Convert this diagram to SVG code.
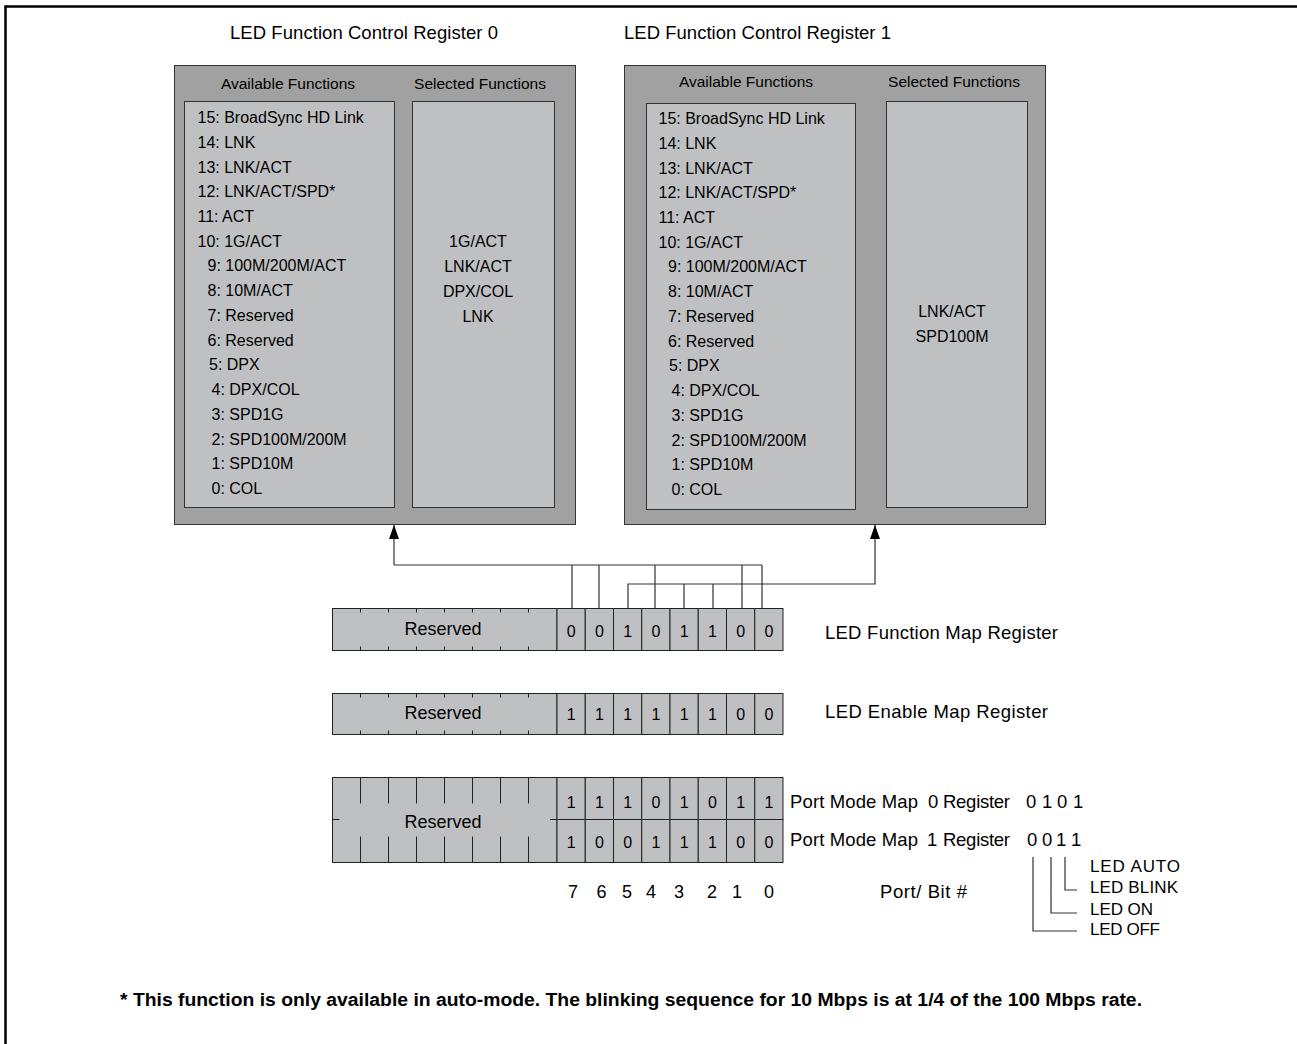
<svg xmlns="http://www.w3.org/2000/svg" width="1297" height="1044" viewBox="0 0 1297 1044">
<style>
.t{font-family:"Liberation Sans",Arial,sans-serif;fill:#000}
.li{font-size:16px}
.hd{font-size:15.5px;text-anchor:middle}
.sel{font-size:16px;text-anchor:middle}
.ti{font-size:18.5px}
.lab{font-size:18.5px}
.led{font-size:17px}
.bit{font-size:16px;text-anchor:middle}
.num{font-size:18px;text-anchor:middle}
.res{font-size:18px;text-anchor:middle}
.outer{fill:#a1a1a1;stroke:#333;stroke-width:1}
.inner{fill:#bfc0c2;stroke:#333;stroke-width:1}
.cell{fill:#bfc0c2;stroke:#222;stroke-width:1}
.tk{stroke:#222;stroke-width:1;fill:none}
.ln{fill:none;stroke:#333;stroke-width:1.2}
</style>
<defs>
<marker id="ah" viewBox="0 0 14 10" refX="14" refY="5" markerWidth="14" markerHeight="10" markerUnits="userSpaceOnUse" orient="auto">
<path d="M0,0 L14,5 L0,10 Z" fill="#000"/>
</marker>
</defs>
<rect x="0" y="0" width="1297" height="1044" fill="#fff"/>
<path d="M5.5,1044 V6.5 H1297" fill="none" stroke="#000" stroke-width="2.5"/>

<g id="reg0">
<text class="t ti" x="230" y="38.5" textLength="268">LED Function Control Register 0</text>
<rect class="outer" x="174.5" y="65.5" width="401" height="459"/>
<text class="t hd" x="288" y="89">Available Functions</text>
<text class="t hd" x="480" y="89">Selected Functions</text>
<rect class="inner" x="184.5" y="101.5" width="210" height="406"/>
<rect class="inner" x="412.5" y="101.5" width="142" height="406"/>
<g class="t li">
<text x="197.5" y="123">15: BroadSync HD Link</text>
<text x="197.5" y="147.7">14: LNK</text>
<text x="197.5" y="172.5">13: LNK/ACT</text>
<text x="197.5" y="197.2">12: LNK/ACT/SPD*</text>
<text x="197.5" y="221.9">11: ACT</text>
<text x="197.5" y="246.7">10: 1G/ACT</text>
<text x="207.5" y="271.4">9: 100M/200M/ACT</text>
<text x="207.5" y="296.1">8: 10M/ACT</text>
<text x="207.5" y="320.8">7: Reserved</text>
<text x="207.5" y="345.6">6: Reserved</text>
<text x="209" y="370.3">5: DPX</text>
<text x="211.5" y="395">4: DPX/COL</text>
<text x="211.5" y="419.8">3: SPD1G</text>
<text x="211.5" y="444.5">2: SPD100M/200M</text>
<text x="211.5" y="469.2">1: SPD10M</text>
<text x="211.5" y="494">0: COL</text>
</g>
<g class="t sel">
<text x="478" y="247">1G/ACT</text>
<text x="478" y="272">LNK/ACT</text>
<text x="478" y="297">DPX/COL</text>
<text x="478" y="322">LNK</text>
</g>
</g>

<g id="reg1">
<text class="t ti" x="624" y="38.5" textLength="267">LED Function Control Register 1</text>
<rect class="outer" x="624.5" y="65.5" width="421" height="459"/>
<text class="t hd" x="746" y="87">Available Functions</text>
<text class="t hd" x="954" y="87">Selected Functions</text>
<rect class="inner" x="646.5" y="103.5" width="209" height="406"/>
<rect class="inner" x="886.5" y="101.5" width="141" height="406"/>
<g class="t li">
<text x="658.5" y="124">15: BroadSync HD Link</text>
<text x="658.5" y="148.7">14: LNK</text>
<text x="658.5" y="173.5">13: LNK/ACT</text>
<text x="658.5" y="198.2">12: LNK/ACT/SPD*</text>
<text x="658.5" y="222.9">11: ACT</text>
<text x="658.5" y="247.7">10: 1G/ACT</text>
<text x="668" y="272.4">9: 100M/200M/ACT</text>
<text x="668" y="297.1">8: 10M/ACT</text>
<text x="668" y="321.8">7: Reserved</text>
<text x="668" y="346.6">6: Reserved</text>
<text x="669" y="371.3">5: DPX</text>
<text x="671.5" y="396">4: DPX/COL</text>
<text x="671.5" y="420.8">3: SPD1G</text>
<text x="671.5" y="445.5">2: SPD100M/200M</text>
<text x="671.5" y="470.2">1: SPD10M</text>
<text x="671.5" y="495">0: COL</text>
</g>
<g class="t sel">
<text x="952" y="317">LNK/ACT</text>
<text x="952" y="342">SPD100M</text>
</g>
</g>

<g id="connectors">
<path class="ln" d="M394,565 V525" marker-end="url(#ah)"/>
<path class="ln" d="M394,565 H762"/>
<path class="ln" d="M572,565 V608 M599,565 V608 M655,565 V608 M742,565 V608 M762,565 V608"/>
<path class="ln" d="M628,608 V584 H875 V525" marker-end="url(#ah)"/>
<path class="ln" d="M684,584 V608 M713,584 V608"/>
</g>

<g id="led-function-map">
<rect class="cell" x="332.5" y="608.5" width="224.5" height="42"/>
<path class="tk" d="M360.5,608.5v4M388.5,608.5v4M416.5,608.5v4M444.5,608.5v4M472.5,608.5v4M500.5,608.5v4M528.5,608.5v4M360.5,650.5v-4M388.5,650.5v-4M416.5,650.5v-4M444.5,650.5v-4M472.5,650.5v-4M500.5,650.5v-4M528.5,650.5v-4"/>
<text class="t res" x="443" y="635">Reserved</text>
<rect class="cell" x="557" y="608.5" width="28.25" height="42"/>
<rect class="cell" x="585.25" y="608.5" width="28.25" height="42"/>
<rect class="cell" x="613.5" y="608.5" width="28.25" height="42"/>
<rect class="cell" x="641.75" y="608.5" width="28.25" height="42"/>
<rect class="cell" x="670" y="608.5" width="28.25" height="42"/>
<rect class="cell" x="698.25" y="608.5" width="28.25" height="42"/>
<rect class="cell" x="726.5" y="608.5" width="28.25" height="42"/>
<rect class="cell" x="754.75" y="608.5" width="28.25" height="42"/>
<g class="t bit">
<text x="571.1" y="637">0</text><text x="599.4" y="637">0</text><text x="627.6" y="637">1</text><text x="655.9" y="637">0</text>
<text x="684.1" y="637">1</text><text x="712.4" y="637">1</text><text x="740.6" y="637">0</text><text x="768.9" y="637">0</text>
</g>
<text class="t lab" x="825" y="639" textLength="233">LED Function Map Register</text>
</g>

<g id="led-enable-map">
<rect class="cell" x="332.5" y="693.5" width="224.5" height="41"/>
<path class="tk" d="M360.5,693.5v4M388.5,693.5v4M416.5,693.5v4M444.5,693.5v4M472.5,693.5v4M500.5,693.5v4M528.5,693.5v4M360.5,734.5v-4M388.5,734.5v-4M416.5,734.5v-4M444.5,734.5v-4M472.5,734.5v-4M500.5,734.5v-4M528.5,734.5v-4"/>
<text class="t res" x="443" y="719">Reserved</text>
<rect class="cell" x="557" y="693.5" width="28.25" height="41"/>
<rect class="cell" x="585.25" y="693.5" width="28.25" height="41"/>
<rect class="cell" x="613.5" y="693.5" width="28.25" height="41"/>
<rect class="cell" x="641.75" y="693.5" width="28.25" height="41"/>
<rect class="cell" x="670" y="693.5" width="28.25" height="41"/>
<rect class="cell" x="698.25" y="693.5" width="28.25" height="41"/>
<rect class="cell" x="726.5" y="693.5" width="28.25" height="41"/>
<rect class="cell" x="754.75" y="693.5" width="28.25" height="41"/>
<g class="t bit">
<text x="571.1" y="720">1</text><text x="599.4" y="720">1</text><text x="627.6" y="720">1</text><text x="655.9" y="720">1</text>
<text x="684.1" y="720">1</text><text x="712.4" y="720">1</text><text x="740.6" y="720">0</text><text x="768.9" y="720">0</text>
</g>
<text class="t lab" x="825" y="718" textLength="223">LED Enable Map Register</text>
</g>

<g id="port-mode-map">
<rect class="cell" x="332.5" y="777.5" width="224.5" height="85"/>
<path class="tk" d="M360.5,777.5v26M388.5,777.5v26M416.5,777.5v26M444.5,777.5v26M472.5,777.5v26M500.5,777.5v26M528.5,777.5v26M360.5,862.5v-26M388.5,862.5v-26M416.5,862.5v-26M444.5,862.5v-26M472.5,862.5v-26M500.5,862.5v-26M528.5,862.5v-26M332.5,819.5h7M550,819.5h7"/>
<text class="t res" x="443" y="828">Reserved</text>
<g>
<rect class="cell" x="557" y="777.5" width="28.25" height="42"/>
<rect class="cell" x="585.25" y="777.5" width="28.25" height="42"/>
<rect class="cell" x="613.5" y="777.5" width="28.25" height="42"/>
<rect class="cell" x="641.75" y="777.5" width="28.25" height="42"/>
<rect class="cell" x="670" y="777.5" width="28.25" height="42"/>
<rect class="cell" x="698.25" y="777.5" width="28.25" height="42"/>
<rect class="cell" x="726.5" y="777.5" width="28.25" height="42"/>
<rect class="cell" x="754.75" y="777.5" width="28.25" height="42"/>
<rect class="cell" x="557" y="819.5" width="28.25" height="43"/>
<rect class="cell" x="585.25" y="819.5" width="28.25" height="43"/>
<rect class="cell" x="613.5" y="819.5" width="28.25" height="43"/>
<rect class="cell" x="641.75" y="819.5" width="28.25" height="43"/>
<rect class="cell" x="670" y="819.5" width="28.25" height="43"/>
<rect class="cell" x="698.25" y="819.5" width="28.25" height="43"/>
<rect class="cell" x="726.5" y="819.5" width="28.25" height="43"/>
<rect class="cell" x="754.75" y="819.5" width="28.25" height="43"/>
</g>
<g class="t bit">
<text x="571.1" y="808">1</text><text x="599.4" y="808">1</text><text x="627.6" y="808">1</text><text x="655.9" y="808">0</text>
<text x="684.1" y="808">1</text><text x="712.4" y="808">0</text><text x="740.6" y="808">1</text><text x="768.9" y="808">1</text>
<text x="571.1" y="848">1</text><text x="599.4" y="848">0</text><text x="627.6" y="848">0</text><text x="655.9" y="848">1</text>
<text x="684.1" y="848">1</text><text x="712.4" y="848">1</text><text x="740.6" y="848">0</text><text x="768.9" y="848">0</text>
</g>
<g class="t lab">
<text x="790" y="808" textLength="128">Port Mode Map</text>
<text x="928" y="808">0</text>
<text x="943" y="808" textLength="67">Register</text>
<text x="1026" y="808">0</text><text x="1042" y="808">1</text><text x="1057" y="808">0</text><text x="1073" y="808">1</text>
<text x="790" y="846" textLength="128">Port Mode Map</text>
<text x="927" y="846">1</text>
<text x="943" y="846" textLength="67">Register</text>
<text x="1027" y="846">0</text><text x="1042" y="846">0</text><text x="1056" y="846">1</text><text x="1071" y="846">1</text>
</g>
</g>

<g id="bit-numbers" class="t num">
<text x="573" y="898">7</text><text x="601.5" y="898">6</text><text x="627" y="898">5</text><text x="651" y="898">4</text>
<text x="679" y="898">3</text><text x="712" y="898">2</text><text x="737" y="898">1</text><text x="769" y="898">0</text>
</g>
<text class="t lab" x="880" y="898" textLength="87">Port/ Bit #</text>

<g id="led-modes">
<path class="ln" d="M1033,857 V931 H1077 M1051,857 V913 H1077 M1065,857 V890 H1077"/>
<g class="t led">
<text x="1090" y="872" textLength="90">LED  AUTO</text>
<text x="1090" y="893" textLength="88">LED BLINK</text>
<text x="1090" y="915" textLength="63">LED ON</text>
<text x="1090" y="935" textLength="70">LED OFF</text>
</g>
</g>

<text class="t" x="120" y="1006" font-size="17.5" font-weight="bold" textLength="1022" lengthAdjust="spacingAndGlyphs">* This function is only available in auto-mode. The blinking sequence for 10 Mbps is at 1/4 of the 100 Mbps rate.</text>
</svg>
